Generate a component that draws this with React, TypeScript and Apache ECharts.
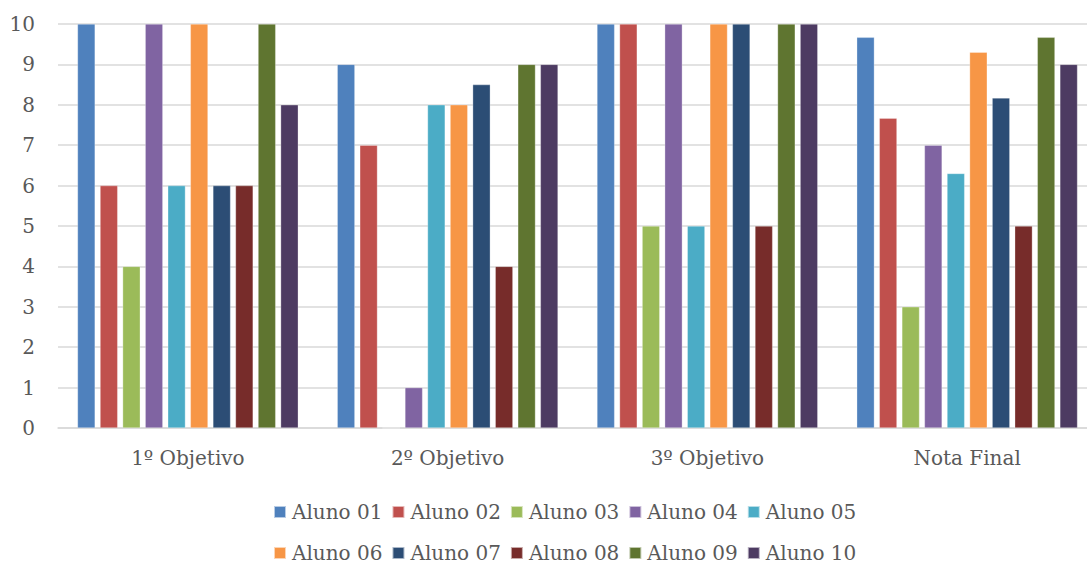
import React, { useEffect, useRef } from "react";
import * as echarts from "echarts";

const categories = ["1º Objetivo", "2º Objetivo", "3º Objetivo", "Nota Final"];
const seriesNames = [
  "Aluno 01", "Aluno 02", "Aluno 03", "Aluno 04", "Aluno 05",
  "Aluno 06", "Aluno 07", "Aluno 08", "Aluno 09", "Aluno 10",
];
const aluno01 = [10, 9, 10, 9.67];
const aluno02 = [6, 7, 10, 7.67];
const aluno03 = [4, 0, 5, 3];
const aluno04 = [10, 1, 10, 7];
const aluno05 = [6, 8, 5, 6.3];
const aluno06 = [10, 8, 10, 9.3];
const aluno07 = [6, 8.5, 10, 8.17];
const aluno08 = [6, 4, 5, 5];
const aluno09 = [10, 9, 10, 9.67];
const aluno10 = [8, 9, 10, 9];
const seriesValues = [aluno01, aluno02, aluno03, aluno04, aluno05, aluno06, aluno07, aluno08, aluno09, aluno10];
const colors = [
  "#4F81BD", "#C0504D", "#9BBB59", "#8064A2", "#4BACC6",
  "#F79646", "#2C4D75", "#772C2A", "#5F7530", "#4D3B62",
];
const yTicks = [0, 10, 1];

const FONT = "DejaVu Serif";
const TXT = "#595959";

export default function App() {
  const ref = useRef<HTMLDivElement>(null);
  useEffect(() => {
    if (!ref.current) return;
    const chart = echarts.init(ref.current, undefined, { renderer: "svg" });
    const legendCommon = {
      orient: "horizontal",
      left: 273,
      padding: 0,
      itemWidth: 12,
      itemHeight: 12,
      itemGap: 9,
      icon: "rect",
      textStyle: { fontFamily: FONT, fontSize: 20, color: TXT, padding: [0, 0, 0, 1] },
    };
    chart.setOption({
      animation: false,
      color: colors,
      grid: { left: 58, width: 1039, top: 24, height: 404, outerBoundsMode: "none", containLabel: false },
      legend: [
        { ...legendCommon, top: 502, data: seriesNames.slice(0, 5) },
        { ...legendCommon, top: 543, data: seriesNames.slice(5) },
      ],
      xAxis: {
        type: "category",
        data: categories,
        axisLine: { lineStyle: { color: "#d9d9d9", width: 1.5 } },
        axisTick: { show: false },
        axisLabel: { fontFamily: FONT, fontSize: 20, color: TXT, margin: 20 },
      },
      yAxis: {
        type: "value",
        min: yTicks[0],
        max: yTicks[1],
        interval: yTicks[2],
        axisLine: { show: false },
        axisTick: { show: false },
        splitLine: { lineStyle: { color: "#d9d9d9", width: 1.5 } },
        axisLabel: { fontFamily: FONT, fontSize: 20, color: TXT, margin: 23 },
      },
      series: seriesNames.map((name, i) => ({
        name,
        type: "bar",
        data: seriesValues[i],
        barCategoryGap: "15%",
        barGap: "28%",
        itemStyle: { color: colors[i], borderColor: "rgba(255,255,255,0.6)", borderWidth: 0.5 },
      })),
    });
    return () => chart.dispose();
  }, []);
  return (
    <div
      ref={ref}
      style={{ position: "absolute", left: 0, top: 0, width: 1087, height: 564, background: "#fff", overflow: "hidden" }}
    />
  );
}
